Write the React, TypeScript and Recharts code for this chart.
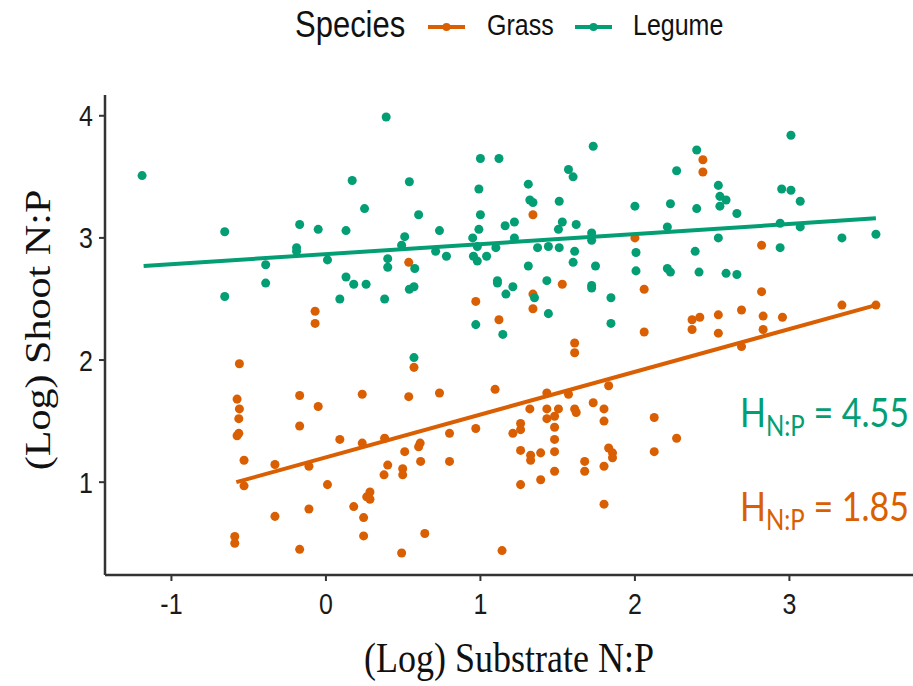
import React from 'react';
import { ScatterChart, Scatter, XAxis, YAxis, Label } from 'recharts';

const GREEN = '#039E74';
const ORANGE = '#D95F02';
// text in the source figure is stretched a little vertically
const STRETCH = 1.17;

const xTicks = [-1, 0, 1, 2, 3];
const yTicks = [1, 2, 3, 4];
const speciesNames = ['Grass', 'Legume'];
const hLabels = ['1.85', '4.55']; // Grass, Legume

// [log substrate N:P, log shoot N:P]
const grassPoints: [number, number][] = [
  [-0.07, 2.4], [-0.07, 2.3], [0.536, 2.8], [1.34, 3.19], [1.53, 2.62], [0.97, 2.48], [1.34, 2.54],
  [1.34, 2.42], [1.12, 2.33], [2.0, 3.0], [2.06, 2.58], [2.06, 2.23], [2.44, 3.64], [2.44, 3.54],
  [2.82, 2.94], [2.82, 2.56], [2.37, 2.33], [2.42, 2.35], [2.54, 2.37], [2.69, 2.41], [2.83, 2.36],
  [2.955, 2.35], [3.34, 2.45], [3.56, 2.45], [2.37, 2.25], [2.54, 2.22], [2.83, 2.25], [2.69, 2.11],
  [2.125, 1.53], [2.27, 1.36], [2.125, 1.25], [-0.56, 1.97], [-0.575, 1.68], [-0.56, 1.6],
  [-0.564, 1.52], [-0.564, 1.4], [-0.575, 1.38], [-0.53, 1.18], [-0.53, 0.97], [-0.59, 0.555],
  [-0.59, 0.5], [-0.17, 1.71], [-0.17, 1.46], [-0.05, 1.62], [-0.33, 1.145], [-0.11, 1.13],
  [0.01, 0.98], [-0.33, 0.72], [-0.11, 0.78], [-0.17, 0.45], [0.09, 1.35], [0.235, 1.72],
  [0.235, 1.32], [0.18, 0.8], [0.244, 0.71], [0.244, 0.56], [0.285, 0.92], [0.264, 0.88],
  [0.285, 0.86], [1.61, 2.14], [1.61, 2.06], [0.57, 1.94], [0.536, 1.7], [0.735, 1.73],
  [1.095, 1.76], [1.43, 1.73], [1.57, 1.72], [1.83, 1.79], [1.32, 1.6], [1.43, 1.6], [1.505, 1.6],
  [1.43, 1.52], [1.48, 1.54], [1.48, 1.45], [1.48, 1.35], [1.48, 1.25], [1.48, 1.09], [1.61, 1.6],
  [1.62, 1.57], [1.73, 1.65], [1.8, 1.6], [1.8, 1.5], [1.83, 1.28], [1.855, 1.24], [1.855, 1.2],
  [1.8, 1.13], [1.675, 1.17], [1.675, 1.09], [1.8, 0.82], [1.26, 1.48], [1.26, 1.43], [1.21, 1.4],
  [1.26, 1.26], [1.325, 1.22], [1.325, 1.18], [1.39, 1.24], [1.26, 0.98], [1.39, 1.02],
  [0.97, 1.44], [0.8, 1.4], [0.8, 1.17], [0.61, 1.32], [0.6, 1.29], [0.613, 1.17], [0.51, 1.25],
  [0.497, 1.11], [0.497, 1.06], [0.4, 1.14], [0.376, 1.06], [0.38, 1.36], [0.64, 0.58],
  [0.49, 0.42], [1.14, 0.44],
];

const legumePoints: [number, number][] = [
  [-1.19, 3.51], [-0.655, 3.05], [-0.655, 2.52], [-0.39, 2.78], [-0.39, 2.63], [-0.19, 2.92],
  [-0.19, 2.89], [-0.17, 3.11], [-0.05, 3.07], [0.01, 2.82], [0.13, 3.06], [0.13, 2.68],
  [0.18, 2.62], [0.26, 2.62], [0.09, 2.5], [0.17, 3.47], [0.25, 3.24], [0.39, 3.99], [0.54, 3.46],
  [0.6, 3.19], [0.51, 3.01], [0.49, 2.94], [0.4, 2.83], [0.4, 2.76], [0.575, 2.75], [0.54, 2.58],
  [0.57, 2.6], [0.38, 2.5], [0.735, 3.06], [0.71, 2.89], [0.78, 2.85], [0.95, 3.0], [0.955, 2.85],
  [0.98, 2.81], [0.98, 2.93], [0.99, 3.07], [1.0, 3.19], [0.99, 3.4], [1.0, 3.65], [1.12, 3.65],
  [1.04, 2.85], [1.1, 2.92], [1.16, 3.1], [1.22, 3.13], [1.22, 3.0], [1.31, 3.44], [1.32, 3.31],
  [1.34, 3.29], [1.31, 2.77], [1.37, 2.92], [1.44, 2.93], [1.51, 3.3], [1.53, 3.13], [1.505, 3.07],
  [1.51, 2.92], [1.43, 2.65], [1.44, 2.38], [1.11, 2.65], [1.11, 2.63], [1.165, 2.54], [1.21, 2.6],
  [0.97, 2.29], [1.145, 2.21], [1.35, 2.51], [1.57, 3.56], [1.6, 3.5], [1.62, 3.11], [1.61, 2.89],
  [1.6, 2.8], [1.73, 3.75], [1.72, 3.04], [1.72, 2.98], [1.745, 2.77], [1.72, 2.61], [1.72, 2.59],
  [1.845, 2.51], [1.845, 2.3], [2.0, 3.26], [2.007, 2.88], [2.007, 2.73], [2.4, 3.72], [2.27, 3.55],
  [2.54, 3.43], [2.55, 3.34], [2.59, 3.31], [2.55, 3.26], [2.23, 3.28], [2.4, 3.24], [2.66, 3.2],
  [2.21, 3.09], [2.54, 3.0], [2.39, 2.89], [2.21, 2.75], [2.23, 2.72], [2.415, 2.72], [2.59, 2.71],
  [2.66, 2.7], [3.01, 3.84], [2.95, 3.4], [3.01, 3.39], [3.07, 3.3], [2.94, 3.12], [3.07, 3.09],
  [2.94, 2.92], [3.34, 3.0], [3.56, 3.03], [0.57, 2.02],
];

// end points of the fitted lines
const grassFit: [number, number][] = [[-0.58, 1.0], [3.56, 2.45]];
const legumeFit: [number, number][] = [[-1.18, 2.77], [3.56, 3.16]];

const toXY = (pts: [number, number][]) => pts.map(([x, y]) => ({ x, y }));

const XTick = ({ x, y, payload }: any) => (
  <text
    transform={`translate(${x},${y}) scale(1,${STRETCH})`}
    textAnchor="middle"
    dy="0.72em"
    fontSize={25}
    fontFamily="'Liberation Sans', Arial, sans-serif"
    fill="#1a1a1a"
  >
    {payload.value}
  </text>
);

const YTick = ({ x, y, payload }: any) => (
  <text
    transform={`translate(${x},${y}) scale(1,${STRETCH})`}
    textAnchor="end"
    dy="0.36em"
    fontSize={25}
    fontFamily="'Liberation Sans', Arial, sans-serif"
    fill="#1a1a1a"
  >
    {payload.value}
  </text>
);

const XTitle = ({ viewBox }: any) => (
  <text
    transform={`translate(${viewBox.x + viewBox.width / 2},${viewBox.y + 97}) scale(1,${STRETCH})`}
    textAnchor="middle"
    fontSize={36}
    fontFamily="'Liberation Serif', 'Times New Roman', serif"
    fill="#111"
  >
    (Log) Substrate N:P
  </text>
);

const YTitle = ({ viewBox }: any) => (
  <text
    transform={`translate(50,${viewBox.y + viewBox.height / 2 - 5}) scale(1,${STRETCH}) rotate(-90)`}
    textAnchor="middle"
    fontSize={36}
    fontFamily="'Liberation Serif', 'Times New Roman', serif"
    fill="#111"
  >
    (Log) Shoot N:P
  </text>
);

const HLabel = ({ y, color, value }: { y: number; color: string; value: string }) => (
  <text
    transform={`translate(909,${y}) scale(1,${STRETCH})`}
    textAnchor="end"
    fontSize={34}
    fontFamily="Lato, 'Open Sans', sans-serif"
    fill={color}
  >
    H
    <tspan fontSize={24} dy={8}>N:P</tspan>
    <tspan dy={-8}> = {value}</tspan>
  </text>
);

const Overlay = () => {
  const colors = [ORANGE, GREEN];
  const keyX = [428, 575];
  const textX = [487, 633];
  return (
    <svg
      width={913}
      height={686}
      style={{ position: 'absolute', left: 0, top: 0, pointerEvents: 'none' }}
    >
      <text
        transform={`translate(295,37) scale(1,${STRETCH})`}
        fontSize={31}
        fontFamily="'Liberation Sans', Arial, sans-serif"
        fill="#111"
      >
        Species
      </text>
      {speciesNames.map((name, i) => (
        <g key={name}>
          <line x1={keyX[i]} x2={keyX[i] + 37} y1={27} y2={27} stroke={colors[i]} strokeWidth={4} />
          <circle cx={keyX[i] + 18.5} cy={27} r={4} fill={colors[i]} />
          <text
            transform={`translate(${textX[i]},35) scale(1,${STRETCH})`}
            fontSize={25}
            fontFamily="'Liberation Sans', Arial, sans-serif"
            fill="#111"
          >
            {name}
          </text>
        </g>
      ))}
      <HLabel y={427} color={GREEN} value={hLabels[1]} />
      <HLabel y={521} color={ORANGE} value={hLabels[0]} />
    </svg>
  );
};

export default function App() {
  return (
    <div style={{ position: 'absolute', left: 0, top: 0, width: 913, height: 686, background: '#fff' }}>
      <ScatterChart width={913} height={686} margin={{ top: 95, right: 0, bottom: 51, left: 0 }}>
        <XAxis
          dataKey="x"
          type="number"
          domain={[-1.43, 3.8]}
          ticks={xTicks}
          allowDataOverflow
          height={60}
          tickSize={6}
          tickMargin={12}
          tick={<XTick />}
          axisLine={{ stroke: '#333', strokeWidth: 2.5 }}
          tickLine={{ stroke: '#333', strokeWidth: 2 }}
        >
          <Label content={<XTitle />} />
        </XAxis>
        <YAxis
          dataKey="y"
          type="number"
          domain={[0.24, 4.17]}
          ticks={yTicks}
          allowDataOverflow
          width={105}
          tickSize={6}
          tickMargin={6}
          tick={<YTick />}
          axisLine={{ stroke: '#333', strokeWidth: 2.5 }}
          tickLine={{ stroke: '#333', strokeWidth: 2 }}
        >
          <Label content={<YTitle />} />
        </YAxis>
        <Scatter name="Grass" data={toXY(grassPoints)} fill={ORANGE} shape="circle" isAnimationActive={false} />
        <Scatter name="Legume" data={toXY(legumePoints)} fill={GREEN} shape="circle" isAnimationActive={false} />
        <Scatter
          data={toXY(grassFit)}
          line={{ stroke: ORANGE, strokeWidth: 4 }}
          shape={() => <g />}
          legendType="none"
          isAnimationActive={false}
        />
        <Scatter
          data={toXY(legumeFit)}
          line={{ stroke: GREEN, strokeWidth: 4 }}
          shape={() => <g />}
          legendType="none"
          isAnimationActive={false}
        />
      </ScatterChart>
      <Overlay />
    </div>
  );
}
